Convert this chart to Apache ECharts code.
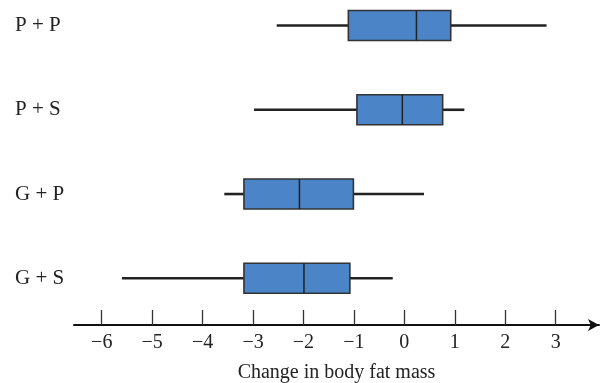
<!DOCTYPE html>
<html>
<head>
<meta charset="utf-8">
<script src="https://cdn.jsdelivr.net/npm/echarts@6/dist/echarts.min.js"></script>
<style>html,body{margin:0;padding:0;background:#fff}#c{width:601px;height:383px}</style>
</head>
<body>
<div id="c"></div>
<script>
const categories = ['P + P', 'P + S', 'G + P', 'G + S'];
const whiskerLow = [-2.53, -2.98, -3.57, -5.60];
const q1 = [-1.11, -0.94, -3.18, -3.18];
const median = [0.24, -0.04, -2.08, -1.99];
const q3 = [0.92, 0.76, -1.01, -1.08];
const whiskerHigh = [2.82, 1.19, 0.39, -0.23];
const tickValues = [-6, -5, -4, -3, -2, -1, 0, 1, 2, 3];

const data = categories.map((c, i) => [i, whiskerLow[i], q1[i], median[i], q3[i], whiskerHigh[i]]);
const serif = '"Liberation Serif", "DejaVu Serif", serif';

const chart = echarts.init(document.getElementById('c'), null, {renderer: 'canvas'});
chart.setOption({
  animation: false,
  backgroundColor: '#fff',
  grid: {left: 74, right: 2, top: 25.5, height: 252.8, containLabel: false, outerBoundsMode: 'none'},
  xAxis: {
    type: 'value', min: -6.55, max: 3.86, offset: 46.7,
    name: 'Change in body fat mass', nameLocation: 'middle', nameGap: 38,
    nameTextStyle: {fontFamily: serif, fontSize: 20, color: '#222'},
    axisLine: {show: true, onZero: false, symbol: ['none', 'arrow'], symbolSize: [9, 11],
      lineStyle: {color: '#111', width: 2}},
    axisTick: {show: true, inside: true, length: 15, customValues: tickValues,
      lineStyle: {color: '#333', width: 1.3}},
    axisLabel: {show: true, margin: 8, customValues: tickValues, fontFamily: serif, fontSize: 20, color: '#222',
      formatter: v => String(v).replace('-', '\u2212')},
    splitLine: {show: false}
  },
  yAxis: {
    type: 'category', data: categories, inverse: true, boundaryGap: false,
    axisLine: {show: false}, axisTick: {show: false}, splitLine: {show: false},
    axisLabel: {align: 'left', margin: 59, fontFamily: serif, fontSize: 21, color: '#222'}
  },
  series: [{
    type: 'custom',
    data: data,
    clip: false,
    encode: {x: [1, 2, 3, 4, 5], y: 0},
    renderItem: function (params, api) {
      const c = api.value(0);
      const pLo = api.coord([api.value(1), c]);
      const pQ1 = api.coord([api.value(2), c]);
      const pMd = api.coord([api.value(3), c]);
      const pQ3 = api.coord([api.value(4), c]);
      const pHi = api.coord([api.value(5), c]);
      const y = pQ1[1];
      const h = 30;
      return {
        type: 'group',
        children: [
          {type: 'line', shape: {x1: pLo[0], y1: y, x2: pQ1[0], y2: y}, style: {stroke: '#222', lineWidth: 2.6}},
          {type: 'line', shape: {x1: pQ3[0], y1: y, x2: pHi[0], y2: y}, style: {stroke: '#222', lineWidth: 2.6}},
          {type: 'rect', shape: {x: pQ1[0], y: y - h / 2, width: pQ3[0] - pQ1[0], height: h},
            style: {fill: '#4b85c7', stroke: '#333', lineWidth: 1.6}},
          {type: 'line', shape: {x1: pMd[0], y1: y - h / 2, x2: pMd[0], y2: y + h / 2}, style: {stroke: '#222', lineWidth: 1.5}}
        ]
      };
    }
  }]
});
</script>
</body>
</html>
